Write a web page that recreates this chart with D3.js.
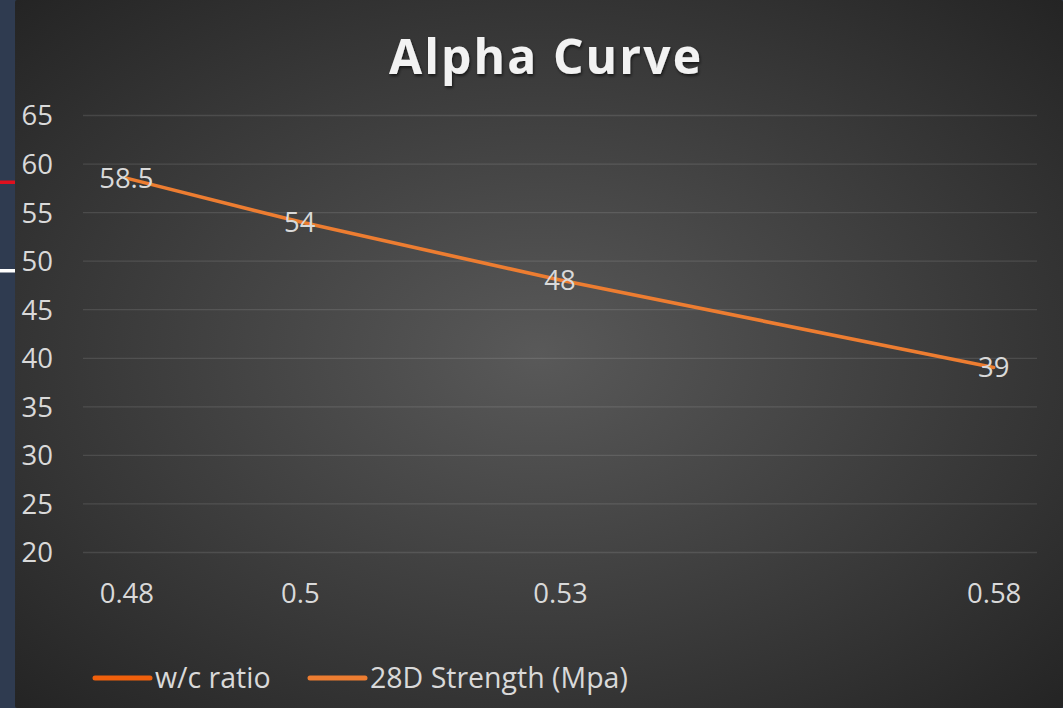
<!DOCTYPE html>
<html>
<head>
<meta charset="utf-8">
<script src="https://cdn.jsdelivr.net/npm/d3@7"></script>
<style>
  html, body { margin: 0; padding: 0; background: #2f3b50; overflow: hidden; }
  svg { display: block; }
</style>
</head>
<body>
<svg id="chart" width="1063" height="708"></svg>
<script>
// Water/cement ratio against 28-day compressive strength
const ratios = [0.48, 0.5, 0.53, 0.58];
const strength = [58.5, 54, 48, 39];
const yTicks = [20, 25, 30, 35, 40, 45, 50, 55, 60, 65];
const xTicks = [0.48, 0.5, 0.53, 0.58];
const seriesNames = ["w/c ratio", "28D Strength (Mpa)"];
const seriesColors = ["#f0600c", "#ed7d31"];
const title = "Alpha Curve";

const W = 1063, H = 708;
const FONT = "'Open Sans', 'Noto Sans', sans-serif";
const svg = d3.select("#chart");
const defs = svg.append("defs");

// radial shading of the chart area
const grad = defs.append("radialGradient")
  .attr("id", "bg").attr("cx", "0.5").attr("cy", "0.5").attr("r", "0.72");
grad.append("stop").attr("offset", "0").attr("stop-color", "#595959");
grad.append("stop").attr("offset", "1").attr("stop-color", "#232323");

const shadow = defs.append("filter").attr("id", "tshadow")
  .attr("x", "-10%").attr("y", "-30%").attr("width", "120%").attr("height", "160%");
shadow.append("feDropShadow").attr("dx", 1).attr("dy", 2)
  .attr("stdDeviation", 1.5).attr("flood-color", "#000").attr("flood-opacity", 0.6);

// side strip of the host sheet
svg.append("rect").attr("x", 0).attr("y", 0).attr("width", 16).attr("height", H).attr("fill", "#2f3b50");
svg.append("rect").attr("x", 0).attr("y", 180.5).attr("width", 15).attr("height", 3.5).attr("fill", "#e0101e");
svg.append("rect").attr("x", 0).attr("y", 269).attr("width", 15).attr("height", 3.5).attr("fill", "#ffffff");

// chart area
svg.append("rect").attr("x", 15).attr("y", 0).attr("width", W - 15).attr("height", H)
  .attr("rx", 2).attr("fill", "url(#bg)");

const x = d3.scaleLinear().domain([0.475, 0.585]).range([83, 1037]);
const y = d3.scaleLinear().domain([20, 65]).range([552, 115]);

// horizontal gridlines
svg.append("g")
  .attr("transform", "translate(83,0)")
  .call(d3.axisLeft(y).tickValues(yTicks).tickSize(-(1037 - 83)).tickFormat(""))
  .call(g => g.select(".domain").remove())
  .call(g => g.selectAll("line").attr("stroke", "rgba(255,255,255,0.11)").attr("stroke-width", 1.3));

// y axis labels
svg.append("g")
  .attr("transform", "translate(53,0)")
  .call(d3.axisLeft(y).tickValues(yTicks).tickSize(0).tickPadding(0).tickFormat(d3.format("d")))
  .call(g => g.select(".domain").remove())
  .call(g => g.selectAll("text")
    .attr("fill", "#d9d9d9").attr("font-family", FONT).attr("font-size", 27.5)
    .attr("dy", "0.36em"));

// x axis labels
svg.append("g")
  .attr("transform", "translate(0,593)")
  .call(d3.axisBottom(x).tickValues(xTicks).tickSize(0).tickPadding(0).tickFormat(d => String(d)))
  .call(g => g.select(".domain").remove())
  .call(g => g.selectAll("text")
    .attr("fill", "#d9d9d9").attr("font-family", FONT).attr("font-size", 27.5)
    .attr("dy", "0.36em"));

// strength line
const pts = ratios.map((r, i) => ({ r, s: strength[i] }));
svg.append("path")
  .datum(pts)
  .attr("fill", "none")
  .attr("stroke", seriesColors[1])
  .attr("stroke-width", 3.6)
  .attr("stroke-linejoin", "round")
  .attr("stroke-linecap", "round")
  .attr("d", d3.line().x(d => x(d.r)).y(d => y(d.s)));

// value labels centred on the points
svg.append("g").selectAll("text")
  .data(pts).join("text")
  .attr("x", d => x(d.r))
  .attr("y", d => y(d.s))
  .attr("dy", "0.36em")
  .attr("text-anchor", "middle")
  .attr("fill", "#d9d9d9")
  .attr("font-family", FONT)
  .attr("font-size", 27.5)
  .text(d => d.s);

// title
const t = svg.append("text")
  .attr("x", 545).attr("y", 74)
  .attr("text-anchor", "middle")
  .attr("fill", "#f2f2f2")
  .attr("font-family", FONT)
  .attr("font-weight", "bold")
  .attr("font-size", 48)
  .attr("filter", "url(#tshadow)")
  .text(title);
const tLen = t.node().getComputedTextLength();
const spacing = Math.max(0, (312 - tLen) / (title.length - 1));
t.attr("letter-spacing", spacing + "px").attr("x", 545 + spacing / 2);

// legend
const legendX = [95, 310];
const lg = svg.append("g").selectAll("g")
  .data(seriesNames).join("g")
  .attr("transform", (d, i) => `translate(${legendX[i]},678)`);
lg.append("line")
  .attr("x1", 0).attr("x2", 55).attr("y1", 0).attr("y2", 0)
  .attr("stroke", (d, i) => seriesColors[i])
  .attr("stroke-width", 5)
  .attr("stroke-linecap", "round");
lg.append("text")
  .attr("x", 60).attr("y", 0).attr("dy", "0.36em")
  .attr("fill", "#d9d9d9")
  .attr("font-family", FONT)
  .attr("font-size", 28.5)
  .text(d => d);
</script>
</body>
</html>
